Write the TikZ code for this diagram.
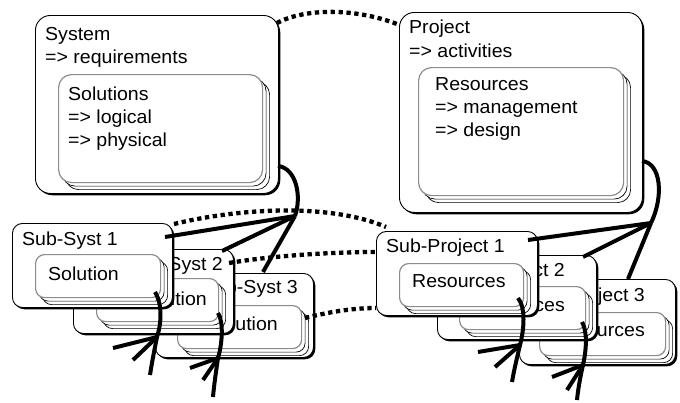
\documentclass[tikz,border=0pt]{standalone}
\usepackage{fontspec}
\setmainfont{Liberation Sans}[FakeStretch=1.04]
\usetikzlibrary{shadows}
\newcommand\lblfont{\fontsize{18.8pt}{22pt}\selectfont}
\begin{document}
\begin{tikzpicture}[x=1pt,y=-1pt,
  outerbox/.style={rectangle, draw=black, line width=0.9pt, fill=white, rounded corners=12pt,
    inner sep=0pt, anchor=north west,
    drop shadow={shadow xshift=1.8pt, shadow yshift=-1.8pt, fill=black, opacity=1}},
  stackbox/.style={rectangle, draw=black!45, line width=1.2pt, fill=white, rounded corners=10pt,
    inner sep=0pt, anchor=north west,
    copy shadow={shadow xshift=7pt, shadow yshift=-7pt, draw=black, line width=0.7pt, fill=white},
    copy shadow={shadow xshift=3.5pt, shadow yshift=-3.5pt, draw=black, line width=0.7pt, fill=white}},
  lbl/.style={anchor=base west, inner sep=0pt, font=\lblfont},
  lble/.style={lbl, anchor=base east},
  subouter/.style={outerbox, minimum width=160pt, minimum height=84pt, rounded corners=10pt},
  subinner/.style={stackbox, minimum width=124pt, minimum height=43pt, rounded corners=9pt},
  dotline/.style={line width=4.3pt, dash pattern=on 4.3pt off 3.6pt},
  heavy/.style={line width=4pt, line join=round}
]
\useasboundingbox (0,0) rectangle (680,402);

% System
\node[outerbox, minimum width=243pt, minimum height=178pt, rounded corners=15pt] (sys) at (35,15) {};
\node[stackbox, minimum width=204pt, minimum height=108pt, rounded corners=13pt] (sol) at (58,74) {};
\node[lbl] (sysT) at (45,40) {System};
\node[lbl] (sysR) at (45,63) {=> requirements};
\node[lbl] (solT) at (68,100) {Solutions};
\node[lbl] (solL) at (68,123) {=> logical};
\node[lbl] (solP) at (68,146) {=> physical};

% Project
\node[outerbox, minimum width=243pt, minimum height=200pt, rounded corners=15pt] (proj) at (399,12) {};
\node[stackbox, minimum width=205pt, minimum height=128pt, rounded corners=13pt] (res) at (418,67) {};
\node[lbl] (projT) at (409,33) {Project};
\node[lbl] (projA) at (409,57) {=> activities};
\node[lbl] (resT) at (435,90) {Resources};
\node[lbl] (resM) at (435,113) {=> management};
\node[lbl] (resD) at (435,136) {=> design};

% Sub-systems (back to front)
\node[subouter, minimum width=158pt] (ss3) at (155,273) {};
\node[subinner] (ss3i) at (177,305) {};
\node[lble] (ss3T) at (298,293) {Sub-Syst 3};
\node[lble] (ss3S) at (278,330) {Solution};

\node[subouter] (ss2) at (73,249) {};
\node[subinner, minimum width=122pt] (ss2i) at (96,278) {};
\node[lble] (ss2T) at (223,270) {Sub-Syst 2};
\node[lble] (ss2S) at (207,305) {Solution};

\node[subouter] (ss1) at (12,223) {};
\node[subinner, minimum width=125pt] (ss1i) at (35,254) {};
\node[lbl] (ss1T) at (22,245) {Sub-Syst 1};
\node[lbl] (ss1S) at (48,280) {Solution};

% Sub-projects (back to front)
\node[subouter, minimum width=156pt, minimum height=85pt] (sp3) at (519,279) {};
\node[subinner, minimum width=126pt] (sp3i) at (539,312) {};
\node[lble] (sp3T) at (645,301) {Sub-Project 3};
\node[lble] (sp3S) at (645,336) {Resources};

\node[subouter, minimum width=159pt] (sp2) at (437,255) {};
\node[subinner, minimum width=126pt] (sp2i) at (459,286) {};
\node[lble] (sp2T) at (565,276) {Sub-Project 2};
\node[lble] (sp2S) at (565,311) {Resources};

\node[subouter, minimum width=161pt] (sp1) at (376,231) {};
\node[subinner] (sp1i) at (399,263) {};
\node[lbl] (sp1T) at (386,252) {Sub-Project 1};
\node[lbl] (sp1S) at (412,287) {Resources};

% dotted connectors
\coordinate (t1) at (277,23);  \coordinate (t2) at (397,24);
\draw[dotline] (t1) .. controls (305,8) and (355,8) .. (t2);
\coordinate (d1a) at (174,224); \coordinate (d1b) at (386,227);
\draw[dotline] (d1a) .. controls (240,208) and (330,203) .. (d1b);
\coordinate (d2a) at (229,263); \coordinate (d2b) at (376,252);
\draw[dotline] (d2a) .. controls (270,256) and (330,252) .. (d2b);
\coordinate (d3a) at (305,318); \coordinate (d3b) at (376,308);
\draw[dotline] (d3a) .. controls (325,313) and (350,308) .. (d3b);

% system fan
\coordinate (fs0) at (278,166); \coordinate (fsA) at (295,216);
\coordinate (fs1) at (165,237); \coordinate (fs2) at (222,251); \coordinate (fs3) at (263,272);
\draw[heavy] (fs0) .. controls (296,168) and (302,196) .. (fsA);
\draw[heavy] (fsA) -- (fs1);
\draw[heavy] (fsA) -- (fs2);
\draw[heavy] (fsA) -- (fs3);

% project fan
\coordinate (fp0) at (642,161); \coordinate (fpA) at (651,223);
\coordinate (fp1) at (528,240); \coordinate (fp2) at (583,257); \coordinate (fp3) at (628,279);
\draw[heavy] (fp0) .. controls (661,163) and (664,196) .. (fpA);
\draw[heavy] (fpA) -- (fp1);
\draw[heavy] (fpA) -- (fp2);
\draw[heavy] (fpA) -- (fp3);

% bottom fans
\coordinate (a1s) at (155,292); \coordinate (a1x) at (157,337); \coordinate (a1e) at (150,375);
\coordinate (a1b) at (113,348); \coordinate (a1c) at (133,360);
\draw[heavy] (a1s) .. controls (163,305) and (161,325) .. (a1x) .. controls (154,352) and (152,362) .. (a1e);
\draw[heavy] (a1b) -- (a1x); \draw[heavy] (a1c) -- (a1x);

\coordinate (a2s) at (218,313); \coordinate (a2x) at (218,358); \coordinate (a2e) at (213,397);
\coordinate (a2b) at (190,368); \coordinate (a2c) at (203,380);
\draw[heavy] (a2s) .. controls (224,322) and (222,345) .. (a2x) .. controls (216,372) and (214,385) .. (a2e);
\draw[heavy] (a2b) -- (a2x); \draw[heavy] (a2c) -- (a2x);

\coordinate (a3s) at (518,298); \coordinate (a3x) at (520,345); \coordinate (a3e) at (512,382);
\coordinate (a3b) at (478,352); \coordinate (a3c) at (495,367);
\draw[heavy] (a3s) .. controls (526,308) and (524,330) .. (a3x) .. controls (517,358) and (514,370) .. (a3e);
\draw[heavy] (a3b) -- (a3x); \draw[heavy] (a3c) -- (a3x);

\coordinate (a4s) at (582,322); \coordinate (a4x) at (583,365); \coordinate (a4e) at (577,400);
\coordinate (a4b) at (552,377); \coordinate (a4c) at (567,390);
\draw[heavy] (a4s) .. controls (588,332) and (586,352) .. (a4x) .. controls (580,378) and (578,390) .. (a4e);
\draw[heavy] (a4b) -- (a4x); \draw[heavy] (a4c) -- (a4x);
\end{tikzpicture}
\end{document}
